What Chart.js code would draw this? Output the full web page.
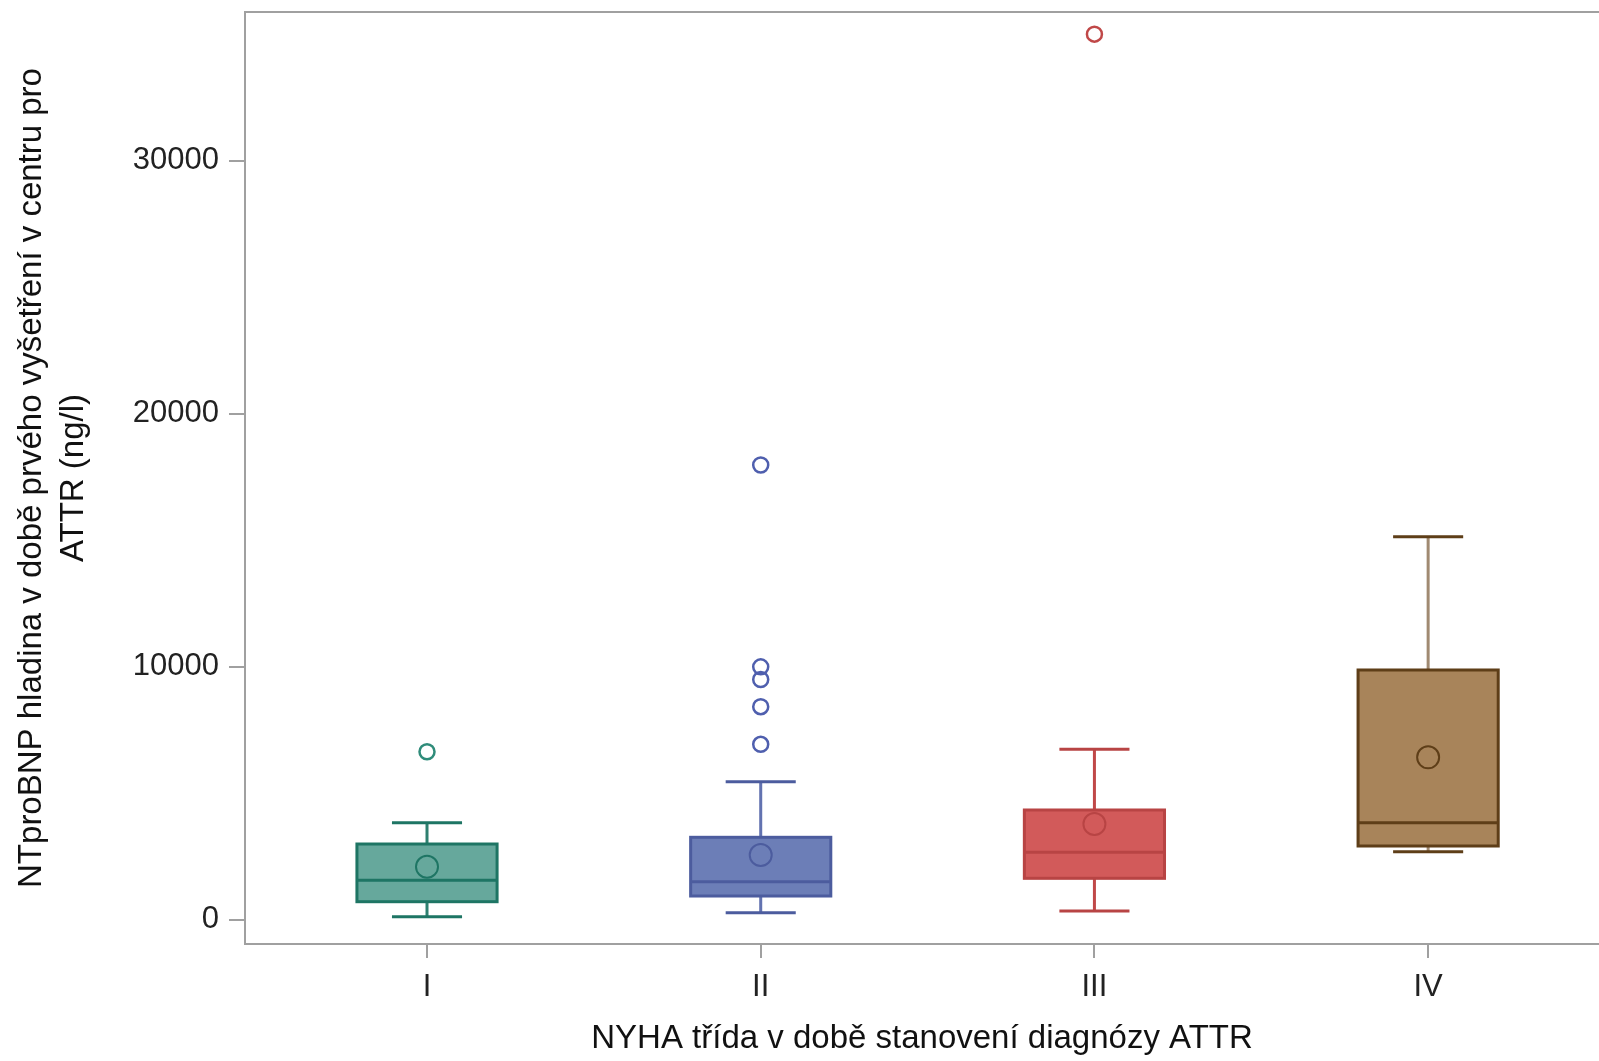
<!DOCTYPE html>
<html>
<head>
<meta charset="utf-8">
<script src="https://cdn.jsdelivr.net/npm/chart.js@4.4.0/dist/chart.umd.min.js"></script>
<style>
  html, body { margin: 0; padding: 0; background: #fff; overflow: hidden; }
  canvas { display: block; }
</style>
</head>
<body>
<canvas id="chart" width="1599" height="1061"></canvas>
<script>
// NYHA classes and box plot statistics (NTproBNP, ng/l)
const classes = ['I', 'II', 'III', 'IV'];
const whiskerLow = [126, 285, 352, 2695];
const q1 = [719, 944, 1643, 2920];
const median = [1565, 1510, 2671, 3841];
const q3 = [2999, 3264, 4343, 9875];
const whiskerHigh = [3841, 5461, 6741, 15142];
const means = [2102, 2564, 3790, 6425];
const outliers = [[6646], [17975, 10000, 9500, 8425, 6939], [35000], []];
const yTicks = [0, 10000, 20000, 30000];

// colours per class
const fillColors = ['#66a89c', '#6c7eb7', '#d25a5a', '#a8845a'];
const lineColors = ['#1e7564', '#4c5c9e', '#b84444', '#5e3e18'];
const whiskerColors = ['#2e8070', '#6272b0', '#c04848', '#a08a72'];
const outlierColors = ['#2f8c7a', '#4f5fae', '#c04848', '#5e3e18'];

const boxWidth = 0.42;   // in category units
const capWidth = 0.21;

// build scatter points for outliers and means
const outlierPoints = [];
const outlierBorder = [];
outliers.forEach((list, i) => {
    list.forEach(v => {
        outlierPoints.push({ x: i + 1, y: v });
        outlierBorder.push(outlierColors[i]);
    });
});
const meanPoints = means.map((v, i) => ({ x: i + 1, y: v }));

// draws boxes, whiskers and medians from the stats arrays
const boxPlugin = {
    id: 'boxes',
    beforeDatasetsDraw(chart) {
        const ctx = chart.ctx;
        const xs = chart.scales.x;
        const ys = chart.scales.y;
        const unit = xs.getPixelForValue(2) - xs.getPixelForValue(1);
        const halfBox = unit * boxWidth / 2;
        const halfCap = unit * capWidth / 2;

        ctx.save();
        ctx.lineWidth = 3;
        classes.forEach((c, i) => {
            const cx = xs.getPixelForValue(i + 1);
            const yLo = ys.getPixelForValue(whiskerLow[i]);
            const yQ1 = ys.getPixelForValue(q1[i]);
            const yMed = ys.getPixelForValue(median[i]);
            const yQ3 = ys.getPixelForValue(q3[i]);
            const yHi = ys.getPixelForValue(whiskerHigh[i]);

            // whiskers
            ctx.strokeStyle = whiskerColors[i];
            ctx.beginPath();
            ctx.moveTo(cx, yQ3); ctx.lineTo(cx, yHi);
            ctx.moveTo(cx, yQ1); ctx.lineTo(cx, yLo);
            ctx.stroke();

            // caps
            ctx.strokeStyle = lineColors[i];
            ctx.beginPath();
            ctx.moveTo(cx - halfCap, yHi); ctx.lineTo(cx + halfCap, yHi);
            ctx.moveTo(cx - halfCap, yLo); ctx.lineTo(cx + halfCap, yLo);
            ctx.stroke();

            // box
            ctx.fillStyle = fillColors[i];
            ctx.fillRect(cx - halfBox, yQ3, halfBox * 2, yQ1 - yQ3);
            ctx.strokeStyle = lineColors[i];
            ctx.strokeRect(cx - halfBox, yQ3, halfBox * 2, yQ1 - yQ3);

            // median
            ctx.beginPath();
            ctx.moveTo(cx - halfBox, yMed); ctx.lineTo(cx + halfBox, yMed);
            ctx.stroke();
        });
        ctx.restore();
    },
    afterDraw(chart) {
        // top frame line
        const ctx = chart.ctx;
        const a = chart.chartArea;
        ctx.save();
        ctx.strokeStyle = '#a0a0a0';
        ctx.lineWidth = 2;
        ctx.beginPath();
        ctx.moveTo(a.left, a.top);
        ctx.lineTo(a.right, a.top);
        ctx.stroke();
        ctx.restore();
    }
};

const ctx = document.getElementById('chart').getContext('2d');
new Chart(ctx, {
    type: 'scatter',
    data: {
        datasets: [
            {
                label: 'Průměr',
                data: meanPoints,
                pointRadius: 11,
                pointBorderWidth: 2,
                pointBackgroundColor: 'rgba(0,0,0,0)',
                pointBorderColor: lineColors
            },
            {
                label: 'Odlehlé hodnoty',
                data: outlierPoints,
                pointRadius: 7.5,
                pointBorderWidth: 2.5,
                pointBackgroundColor: 'rgba(0,0,0,0)',
                pointBorderColor: outlierBorder
            }
        ]
    },
    options: {
        responsive: false,
        devicePixelRatio: 1,
        animation: false,
        layout: { autoPadding: false, padding: { top: 12, right: 0, left: 0, bottom: 0 } },
        plugins: {
            legend: { display: false },
            tooltip: { enabled: false }
        },
        scales: {
            x: {
                type: 'linear',
                min: 0.4546,
                max: 4.512,
                afterFit: s => { s.height = 117; s.paddingLeft = 0; s.paddingRight = 0; },
                afterBuildTicks: s => { s.ticks = classes.map((c, i) => ({ value: i + 1 })); },
                ticks: {
                    callback: v => classes[v - 1],
                    color: '#222',
                    font: { family: 'Liberation Sans, Arial', size: 31 },
                    padding: 11,
                    maxRotation: 0
                },
                grid: { drawOnChartArea: false, drawTicks: true, tickLength: 14, color: '#a0a0a0', lineWidth: 2 },
                border: { display: true, color: '#a0a0a0', width: 2 },
                title: {
                    display: true,
                    text: 'NYHA třída v době stanovení diagnózy ATTR',
                    color: '#111',
                    font: { family: 'Liberation Sans, Arial', size: 33, lineHeight: 1.27 },
                    padding: { top: 0, bottom: 1 }
                }
            },
            y: {
                type: 'linear',
                min: -952,
                max: 35875,
                afterFit: s => { s.width = 245; s.paddingTop = 0; s.paddingBottom = 0; },
                afterBuildTicks: s => { s.ticks = yTicks.map(v => ({ value: v })); },
                ticks: {
                    callback: v => String(v),
                    color: '#222',
                    font: { family: 'Liberation Sans, Arial', size: 31 },
                    padding: 10
                },
                grid: { drawOnChartArea: false, drawTicks: true, tickLength: 16, color: '#a0a0a0', lineWidth: 2 },
                border: { display: true, color: '#a0a0a0', width: 2 },
                title: {
                    display: true,
                    text: ['NTproBNP hladina v době prvého vyšetření v centru pro', 'ATTR (ng/l)'],
                    color: '#111',
                    font: { family: 'Liberation Sans, Arial', size: 33, lineHeight: 1.27 },
                    padding: { top: 11, bottom: 0 }
                }
            }
        }
    },
    plugins: [boxPlugin]
});
</script>
</body>
</html>
